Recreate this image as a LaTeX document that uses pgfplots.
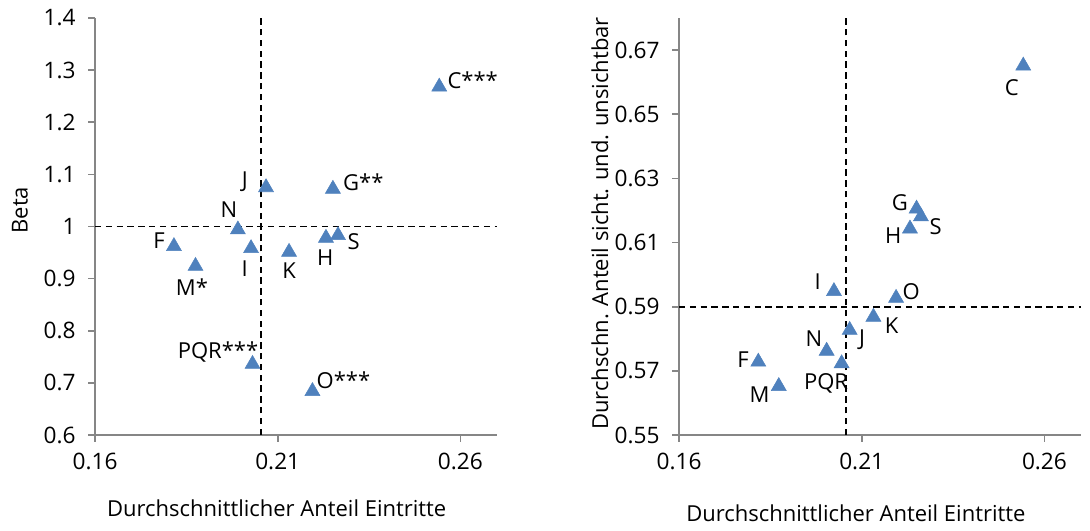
\documentclass[border=0pt]{standalone}
\usepackage{pgfplots}
\pgfplotsset{compat=1.18}
\usepackage{fontspec}
\setmainfont{Open Sans}
\definecolor{mk}{HTML}{4F81BD}
\definecolor{axc}{HTML}{868686}
\tikzset{
  lab/.style={font=\fontsize{16.5}{19}\selectfont, inner sep=0pt},
  dl/.style={black, dash pattern=on 4.8pt off 3.3pt, line width=1.4pt},
}
\pgfplotsset{
  mystyle/.style={
    scale only axis, width=301.5pt, height=312.75pt,
    axis x line=bottom, axis y line=left,
    axis line style={axc, line width=1.5pt, -},
    xmin=0.16, xmax=0.27, xtick={0.16,0.21,0.26},
    tick style={axc, line width=1.3pt}, tick align=outside, major tick length=5pt,
    minor tick num=0,
    tick label style={font=\fontsize{17}{20}\selectfont, text=black},
    xticklabel style={yshift=-5pt},
    yticklabel style={xshift=-6pt},
    /pgf/number format/assume math mode=true,
    clip=false,
  },
  mkplot/.style={only marks, mark=triangle*, mark size=6.5pt, mark options={fill=mk, draw=mk}},
}
\begin{document}
\begin{tikzpicture}
\useasboundingbox (0,0) rectangle (817.5pt,398.25pt);
% ---------------- left chart
\begin{axis}[mystyle, at={(71.25pt,72pt)}, anchor=south west,
  ymin=0.6, ymax=1.4, ytick={0.6,0.7,0.8,0.9,1,1.1,1.2,1.3,1.4},
  xticklabel style={/pgf/number format/.cd, fixed, precision=2},
  yticklabel style={/pgf/number format/.cd, fixed, precision=1}]
\addplot[dl] coordinates {(0.2054,0.6) (0.2054,1.4)};
\addplot[dl] coordinates {(0.16,1) (0.27,1)};
\addplot[mkplot] table {
x y
0.2542 1.268
0.2068 1.075
0.2251 1.072
0.1991 0.994
0.1816 0.962
0.1875 0.924
0.2027 0.958
0.2131 0.951
0.2232 0.978
0.2265 0.983
0.2031 0.736
0.2195 0.684
};
\node[lab, anchor=west, xshift=6pt, yshift=5pt] at (axis cs:0.2542,1.268) {C***};
\node[lab, anchor=west, xshift=7.5pt, yshift=4.7pt] at (axis cs:0.2251,1.072) {G**};
\node[lab, xshift=-16pt, yshift=4.2pt] at (axis cs:0.2068,1.075) {J};
\node[lab, xshift=-6.75pt, yshift=15pt] at (axis cs:0.1991,0.994) {N};
\node[lab, xshift=-11.25pt, yshift=4.5pt] at (axis cs:0.1816,0.962) {F};
\node[lab, xshift=-2.7pt, yshift=-15.5pt] at (axis cs:0.1875,0.924) {M*};
\node[lab, xshift=-4.8pt, yshift=-15.2pt] at (axis cs:0.2027,0.958) {I};
\node[lab, xshift=0pt, yshift=-14pt] at (axis cs:0.2131,0.951) {K};
\node[lab, xshift=-0.5pt, yshift=-14.7pt] at (axis cs:0.2232,0.978) {H};
\node[lab, xshift=11.7pt, yshift=-4.8pt] at (axis cs:0.2265,0.983) {S};
\node[lab, anchor=east, xshift=4.5pt, yshift=9.2pt] at (axis cs:0.2031,0.736) {PQR***};
\node[lab, anchor=west, xshift=3pt, yshift=8.25pt] at (axis cs:0.2195,0.684) {O***};
\node[lab, rotate=90, xshift=0pt, yshift=56.25pt] at (rel axis cs:0,0.539) {Beta};
\node[lab, yshift=-54.75pt] at (rel axis cs:0.452,0) {Durchschnittlicher Anteil Eintritte};
\end{axis}
% ---------------- right chart
\begin{axis}[mystyle, at={(509.25pt,72pt)}, anchor=south west,
  ymin=0.55, ymax=0.68, ytick={0.55,0.57,0.59,0.61,0.63,0.65,0.67},
  xticklabel style={/pgf/number format/.cd, fixed, precision=2},
  yticklabel style={/pgf/number format/.cd, fixed, fixed zerofill, precision=2}]
\addplot[dl] coordinates {(0.2057,0.55) (0.2057,0.68)};
\addplot[dl] coordinates {(0.16,0.59) (0.27,0.59)};
\addplot[mkplot] table {
x y
0.2542 0.6651
0.2250 0.6205
0.2262 0.6181
0.2232 0.6143
0.2024 0.5948
0.2194 0.5927
0.2132 0.5868
0.2067 0.5827
0.2004 0.5762
0.2045 0.5723
0.1817 0.5728
0.1873 0.5652
};
\node[lab, xshift=-8.5pt, yshift=-16.7pt] at (axis cs:0.2542,0.6651) {C};
\node[lab, xshift=-12.5pt, yshift=5pt] at (axis cs:0.2250,0.6205) {G};
\node[lab, xshift=11pt, yshift=-7.5pt] at (axis cs:0.2262,0.6181) {S};
\node[lab, xshift=-12.5pt, yshift=-5pt] at (axis cs:0.2232,0.6143) {H};
\node[lab, xshift=-12.2pt, yshift=7pt] at (axis cs:0.2024,0.5948) {I};
\node[lab, xshift=11.25pt, yshift=5pt] at (axis cs:0.2194,0.5927) {O};
\node[lab, xshift=13.7pt, yshift=-6.2pt] at (axis cs:0.2132,0.5868) {K};
\node[lab, xshift=9.2pt, yshift=-7.5pt] at (axis cs:0.2067,0.5827) {J};
\node[lab, xshift=-9.5pt, yshift=9.3pt] at (axis cs:0.2004,0.5762) {N};
\node[lab, xshift=-11.5pt, yshift=1.3pt] at (axis cs:0.1817,0.5728) {F};
\node[lab, xshift=-14.5pt, yshift=-6.2pt] at (axis cs:0.1873,0.5652) {M};
\node[lab, xshift=-11.7pt, yshift=-15pt] at (axis cs:0.2045,0.5723) {PQR};
\node[lab, rotate=90, yshift=59.25pt] at (rel axis cs:0,0.507) {Durchschn. Anteil sicht. und. unsichtbar};
\node[lab, yshift=-58.5pt] at (rel axis cs:0.44,0) {Durchschnittlicher Anteil Eintritte};
\end{axis}
\end{tikzpicture}
\end{document}
